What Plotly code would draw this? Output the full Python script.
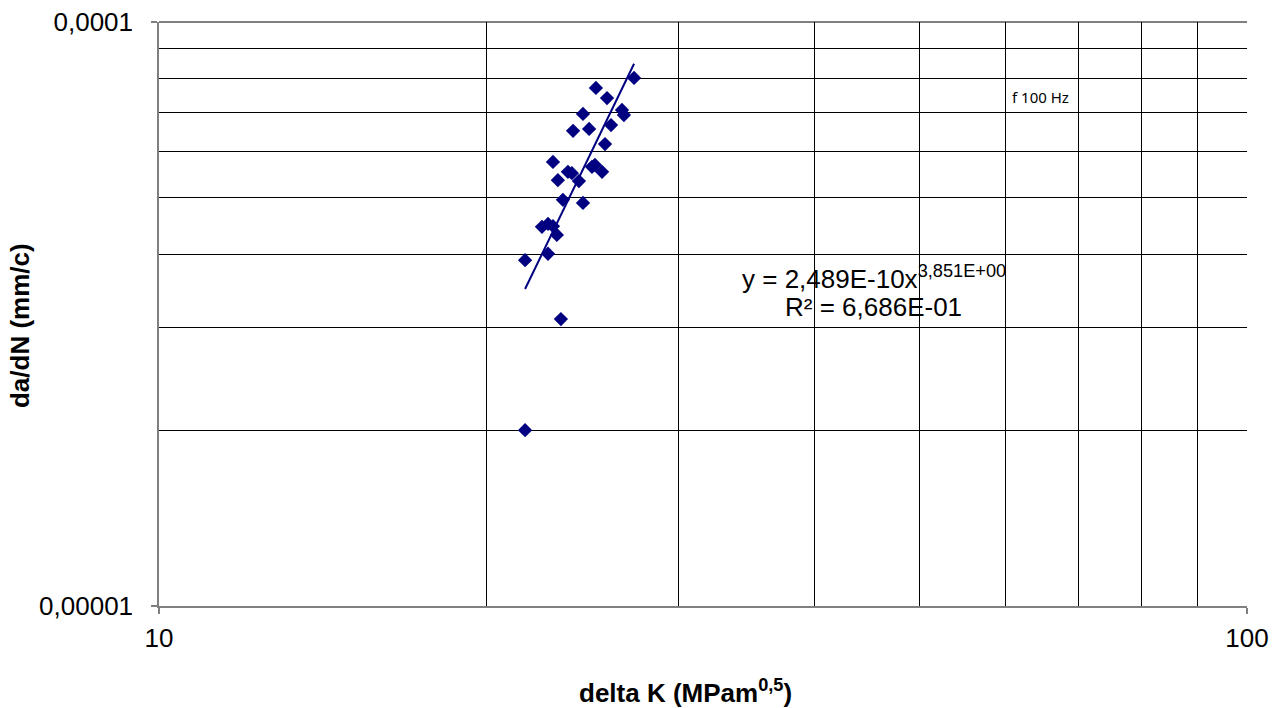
import plotly.graph_objects as go

# Data
delta_k = [27.33, 25.21, 25.81, 24.53, 26.64, 26.75, 26.03, 24.02, 24.85, 25.70,
           23.02, 23.76, 23.96, 23.26, 24.32, 25.00, 25.16, 25.54, 23.51, 24.53,
           22.49, 22.78, 23.02, 23.21, 22.78, 21.70, 23.41, 21.70]
dadn = [8.02e-5, 7.71e-5, 7.41e-5, 6.96e-5, 7.07e-5, 6.93e-5, 6.66e-5, 6.51e-5, 6.56e-5, 6.18e-5,
        5.76e-5, 5.54e-5, 5.51e-5, 5.36e-5, 5.34e-5, 5.65e-5, 5.69e-5, 5.54e-5, 4.96e-5, 4.90e-5,
        4.46e-5, 4.51e-5, 4.47e-5, 4.32e-5, 4.01e-5, 3.91e-5, 3.10e-5, 2.00e-5]

# Power trendline as printed on the chart
coef_a = 2.489e-10
coef_b = 3.851
trend_x = [min(delta_k), max(delta_k)]
trend_y = [coef_a * x ** coef_b for x in trend_x]

x_major = [10, 100]
x_major_text = ["10", "100"]
x_minor = [20, 30, 40, 50, 60, 70, 80, 90]
y_major = [1e-5, 1e-4]
y_major_text = ["0,00001", "0,0001"]
y_minor = [2e-5, 3e-5, 4e-5, 5e-5, 6e-5, 7e-5, 8e-5, 9e-5]

eq_line1 = "y = 2,489E-10x<sup>3,851E+00</sup>"
eq_line2 = "R² = 6,686E-01"
freq_label = "f 100 Hz"
x_title = "<b>delta K (MPam<sup>0,5</sup>)</b>"
y_title = "<b>da/dN (mm/c)</b>"

navy = "#000080"
font = "Liberation Sans, Arial, sans-serif"

fig = go.Figure()
fig.add_trace(go.Scatter(x=delta_k, y=dadn, mode="markers",
                         marker=dict(symbol="diamond", size=11, color=navy),
                         showlegend=False))
fig.add_trace(go.Scatter(x=trend_x, y=trend_y, mode="lines",
                         line=dict(color=navy, width=2), showlegend=False))

axis_common = dict(
    ticks="outside", ticklen=6, tickcolor="#808080", tickwidth=1.5,
    tickfont=dict(size=26), showgrid=True, gridcolor="#000000", gridwidth=1,
    showline=True, linecolor="#808080", linewidth=1.5, zeroline=False,
    automargin=False, ticklabeloverflow="allow",
)

# The page body adds an 8 px margin, so the figure is sized to compensate
fig.update_layout(
    width=1277, height=700,
    margin=dict(l=151, r=38, t=14, b=102),
    paper_bgcolor="white", plot_bgcolor="white",
    font=dict(family=font, color="black"),
    xaxis=dict(type="log", range=[1, 2], tickvals=x_major, ticktext=x_major_text,
               minor=dict(tickvals=x_minor, showgrid=True, gridcolor="#000000", gridwidth=1, ticks=""),
               ticklabelstandoff=2, **axis_common),
    yaxis=dict(type="log", range=[-5, -4], tickvals=y_major, ticktext=y_major_text,
               minor=dict(tickvals=y_minor, showgrid=True, gridcolor="#000000", gridwidth=1, ticks=""),
               ticklabelstandoff=13, **axis_common),
)

# top border of the plot area (the 0,0001 gridline)
fig.add_shape(type="line", xref="paper", yref="paper", x0=0, x1=1, y0=1, y1=1,
              line=dict(color="#000000", width=1), layer="below")

# Axis titles
fig.add_annotation(x=0.484, y=-0.147, xref="paper", yref="paper", text=x_title,
                   showarrow=False, xanchor="center", yanchor="middle",
                   font=dict(size=26, family=font))
fig.add_annotation(x=-0.1278, y=0.481, xref="paper", yref="paper", text=y_title,
                   showarrow=False, textangle=-90, xanchor="center", yanchor="middle",
                   font=dict(size=26, family=font))

# Trendline equation
fig.add_annotation(x=0.657, y=0.563, xref="paper", yref="paper", text=eq_line1,
                   showarrow=False, xanchor="center", yanchor="middle",
                   font=dict(size=26, family=font))
fig.add_annotation(x=0.657, y=0.512, xref="paper", yref="paper", text=eq_line2,
                   showarrow=False, xanchor="center", yanchor="middle",
                   font=dict(size=26, family=font))
fig.add_annotation(x=0.782, y=0.8716, xref="paper", yref="paper", xanchor="left",
                   yanchor="middle", text=freq_label, showarrow=False,
                   font=dict(size=15, family="Noto Sans, sans-serif"))

fig.write_html("out.html")
